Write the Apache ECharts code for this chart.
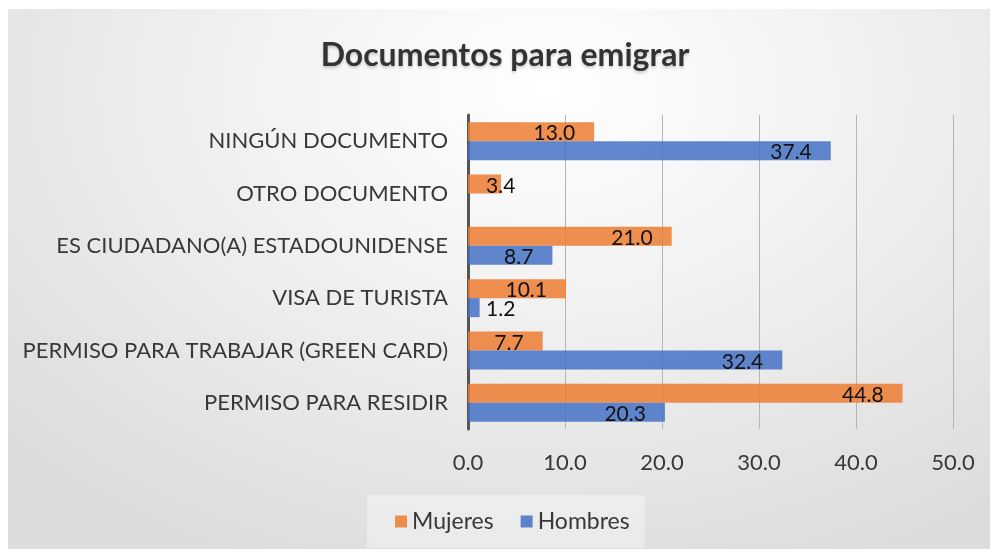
<!DOCTYPE html>
<html>
<head>
<meta charset="utf-8">
<script src="https://cdn.jsdelivr.net/npm/echarts@6/dist/echarts.min.js"></script>
<style>
  html, body { margin: 0; padding: 0; background: #fff; }
  .panel {
    position: absolute; left: 8px; top: 9px; width: 982px; height: 540px;
    background: radial-gradient(ellipse 75% 95% at 55% 15%, #ffffff 0%, #f2f2f2 40%, #dcdcdc 100%);
  }
  #chart { position: absolute; left: 0; top: 0; width: 993px; height: 552px; }
</style>
</head>
<body>
<div class="panel"></div>
<div id="chart"></div>
<script>
// categories, top to bottom as in the picture
const categories = [
  'NINGÚN DOCUMENTO',
  'OTRO DOCUMENTO',
  'ES CIUDADANO(A) ESTADOUNIDENSE',
  'VISA DE TURISTA',
  'PERMISO PARA TRABAJAR (GREEN CARD)',
  'PERMISO PARA RESIDIR'
]
const mujeres = [13.0, 3.4, 21.0, 10.1, 7.7, 44.8]
const hombres = [37.4, null, 8.7, 1.2, 32.4, 20.3]
const xTicks = [0, 10, 20, 30, 40, 50]

const font = 'Lato, "Open Sans", sans-serif'
const textColor = '#383838'

// small bars: label does not fit inside, Excel pushes it out
function toData (arr) {
  return arr.map(v => {
    if (v === null) return null
    if (v < 5) {
      return { value: v, label: { position: 'insideLeft', distance: 18 } }
    }
    return v
  })
}

const barLabel = {
  show: true,
  position: 'insideRight',
  distance: 19,
  offset: [0, 2],
  color: '#111',
  fontFamily: font,
  fontSize: 21,
  formatter: p => p.value.toFixed(1)
}

const myChart = echarts.init(document.getElementById('chart'))
const opt = {
  backgroundColor: 'transparent',
  animation: false,
  title: {
    text: 'Documentos para emigrar',
    left: 500,
    top: 35,
    textAlign: 'center',
    textStyle: {
      fontFamily: font,
      fontWeight: 'bold',
      fontSize: 32,
      color: '#333',
      textShadowColor: 'rgba(0,0,0,0.2)',
      textShadowBlur: 3,
      textShadowOffsetY: 2
    }
  },
  legend: {
    left: 367,
    top: 495,
    padding: [15, 15, 15, 28],
    backgroundColor: 'rgba(255,255,255,0.35)',
    icon: 'rect',
    itemWidth: 12,
    itemHeight: 12,
    itemGap: 27,
    textStyle: { fontFamily: font, fontSize: 23, color: textColor },
    data: ['Mujeres', 'Hombres']
  },
  grid: {
    left: 468,
    right: 40,
    top: 115,
    bottom: 123,
    containLabel: false
  },
  xAxis: {
    type: 'value',
    min: xTicks[0],
    max: xTicks[xTicks.length - 1],
    interval: 10,
    axisLine: { show: false },
    axisTick: { show: false },
    axisLabel: {
      margin: 23,
      fontFamily: font,
      fontSize: 22,
      color: textColor,
      formatter: v => v.toFixed(1)
    },
    splitLine: { show: true, lineStyle: { color: '#b5b5b5', width: 1 } }
  },
  yAxis: {
    type: 'category',
    inverse: true,
    data: categories,
    axisLine: { show: true, lineStyle: { color: '#555', width: 3 } },
    axisTick: { show: false },
    axisLabel: {
      margin: 20,
      fontFamily: font,
      fontSize: 22,
      color: textColor
    }
  },
  series: [
    {
      name: 'Mujeres',
      type: 'bar',
      data: toData(mujeres),
      barWidth: 19,
      barGap: '0%',
      itemStyle: { color: 'rgba(237,125,49,0.85)' },
      label: barLabel
    },
    {
      name: 'Hombres',
      type: 'bar',
      data: toData(hombres),
      barWidth: 19,
      barGap: '0%',
      itemStyle: { color: 'rgba(68,114,196,0.85)' },
      label: barLabel
    }
  ]
}
myChart.setOption(opt)
window.addEventListener('resize', () => myChart.resize())
</script>
</body>
</html>
